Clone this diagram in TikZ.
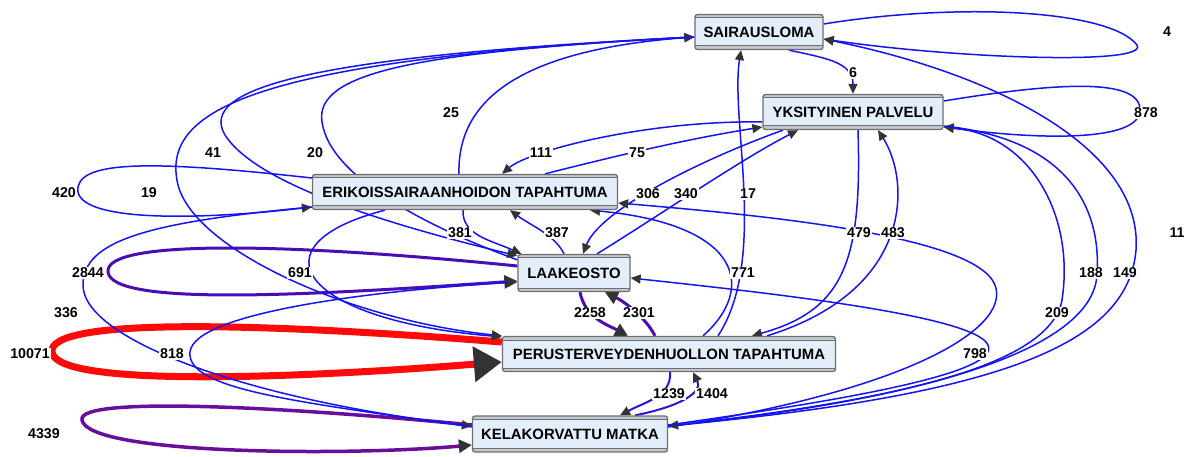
\documentclass[tikz,border=0pt]{standalone}
\usepackage{fontspec}
\setmainfont{Liberation Sans}
\usetikzlibrary{arrows.meta,backgrounds}

\definecolor{actfill}{HTML}{E3EEFA}
\definecolor{actline}{HTML}{6E6E6E}
\definecolor{actband}{HTML}{C4C8CE}
\definecolor{tipgrey}{HTML}{333333}
\definecolor{flowblue}{HTML}{1414F0}
\definecolor{flowindigo}{HTML}{3510D4}
\definecolor{flowviolet}{HTML}{4A0DB4}
\definecolor{flowpurple}{HTML}{6A0C9C}
\definecolor{flowred}{HTML}{FF0A0A}

\begin{document}
\begin{tikzpicture}[x=1pt, y=-1pt,
  act/.style={draw=actline, fill=actfill, line width=1.3pt, rounded corners=2.5pt,
    minimum height=35pt, inner sep=0pt, text=black,
    font=\fontsize{14.9}{17}\selectfont\bfseries,
    path picture={
      \fill[actband] (path picture bounding box.north west) rectangle ([yshift=-3.5pt]path picture bounding box.north east);
      \fill[actband] (path picture bounding box.south west) rectangle ([yshift=3.5pt]path picture bounding box.south east);
      \draw[actline, line width=1pt] ([yshift=-3.5pt]path picture bounding box.north west) -- ([yshift=-3.5pt]path picture bounding box.north east);
      \draw[actline, line width=1pt] ([yshift=3.5pt]path picture bounding box.south west) -- ([yshift=3.5pt]path picture bounding box.south east);}},
  cnt/.style={fill=white, inner sep=0.8pt, text=black, font=\fontsize{14.2}{16}\selectfont\bfseries},
  flow/.style={draw=flowblue, line width=1.5pt, -{Triangle[length=10pt, width=9pt, color=tipgrey]}},
  heavy/.style={line width=3pt, -{Triangle[length=13pt, width=13pt, color=tipgrey]}},
]
\useasboundingbox (0,0) rectangle (1189,457);

\node[act, minimum width=128pt] (sair) at (759,32) {SAIRAUSLOMA};
\node[act, minimum width=180pt] (yks) at (853,112) {YKSITYINEN PALVELU};
\node[act, minimum width=305pt] (erik) at (465,192) {ERIKOISSAIRAANHOIDON TAPAHTUMA};
\node[act, minimum width=112pt, minimum height=37pt] (laak) at (574,273) {LAAKEOSTO};
\node[act, minimum width=333pt] (perus) at (669,354) {PERUSTERVEYDENHUOLLON TAPAHTUMA};
\node[act, minimum width=195pt, minimum height=36pt] (kela) at (570,434) {KELAKORVATTU MATKA};

\begin{scope}[on background layer]
  % self loops
  \draw[flow] ([yshift=8pt]sair.east) .. controls (960,2) and (1110,10) .. (1137,45) .. controls (1150,66) and (950,58) .. ([yshift=-7pt]sair.east);
  \draw[flow] ([yshift=11pt]yks.east) .. controls (1060,82) and (1140,78) .. (1140,110) .. controls (1140,142) and (1040,140) .. ([yshift=-15pt]yks.east);
  \draw[flow] ([yshift=14pt]erik.west) .. controls (150,160) and (74,160) .. (78,192) .. controls (84,222) and (200,220) .. ([yshift=-15pt]erik.west);
  \draw[flow, heavy, draw=flowviolet] ([yshift=7pt]laak.west) .. controls (300,244) and (104,238) .. (108,272) .. controls (112,306) and (300,296) .. ([yshift=-8pt]laak.west);
  \draw[draw=flowred, line width=7pt, -{Triangle[length=28pt, width=34pt, color=tipgrey]}] ([yshift=12pt]perus.west) .. controls (250,322) and (48,318) .. (52,352) .. controls (56,388) and (300,378) .. ([yshift=-8pt]perus.west);
  \draw[flow, heavy, line width=3.5pt, draw=flowpurple] ([yshift=9pt]kela.west) .. controls (300,408) and (76,395) .. (82,420) .. controls (88,455) and (350,456) .. ([yshift=-11pt]kela.west);
  % upper part
  \draw[flow] ([xshift=30pt]sair.south) .. controls (825,58) and (853,62) .. (yks.north);
  \draw[flow] ([xshift=-6pt]erik.north) .. controls (457,100) and (520,50) .. ([yshift=-5pt]sair.west);
  \draw[flow] ([yshift=-6pt]laak.north west) .. controls (430,228) and (330,178) .. (322,122) .. controls (314,72) and (420,52) .. ([yshift=-5pt]sair.west);
  \draw[flow] ([yshift=-5pt]sair.west) .. controls (330,55) and (195,85) .. (225,135) .. controls (260,190) and (420,232) .. ([yshift=-2pt]laak.north west);
  \draw[flow] ([yshift=-5pt]sair.west) .. controls (250,60) and (160,110) .. (178,185) .. controls (195,250) and (350,320) .. (perus.north west);
  \draw[flow] ([xshift=-80pt]erik.south) .. controls (250,245) and (300,320) .. ([yshift=-1pt]perus.north west);
  \draw[flow] ([yshift=-10pt]yks.west) .. controls (650,120) and (530,150) .. ([xshift=37pt]erik.north);
  \draw[flow] ([xshift=80pt]erik.north) .. controls (600,160) and (680,140) .. ([yshift=-15pt]yks.west);
  \draw[flow] ([xshift=-70pt]yks.south) .. controls (700,160) and (600,210) .. ([xshift=9pt]laak.north);
  \draw[flow] ([xshift=23pt]laak.north) .. controls (660,215) and (740,160) .. ([xshift=-55pt]yks.south);
  \draw[flow] ([xshift=-2pt]erik.south) .. controls (462,235) and (490,240) .. ([xshift=4pt]laak.north west);
  \draw[flow] ([xshift=-10pt]laak.north) .. controls (555,235) and (530,225) .. ([xshift=45pt]erik.south);
  % from and to the primary care events
  \draw[flow] ([xshift=49pt]perus.north) .. controls (768,260) and (730,120) .. ([xshift=-18pt]sair.south);
  \draw[flow] ([xshift=34pt]perus.north) .. controls (755,290) and (745,225) .. ([xshift=125pt]erik.south);
  \draw[flow] ([xshift=5pt]yks.south) .. controls (862,260) and (845,310) .. ([xshift=83pt]perus.north);
  \draw[flow] ([xshift=98pt]perus.north) .. controls (915,290) and (910,180) .. ([xshift=25pt]yks.south);
  \draw[flow, heavy, draw=flowviolet] ([xshift=6pt]laak.south) .. controls (585,318) and (608,325) .. ([xshift=-41pt]perus.north);
  \draw[flow, heavy, draw=flowviolet] ([xshift=-14pt]perus.north) .. controls (646,318) and (625,302) .. ([xshift=31pt]laak.south);
  \draw[flow, line width=2pt, draw=flowindigo] ([xshift=1pt]perus.south) .. controls (672,396) and (645,402) .. ([xshift=50pt]kela.north);
  \draw[flow, line width=2pt, draw=flowindigo] ([xshift=65pt]kela.north) .. controls (682,406) and (703,392) .. ([xshift=24pt]perus.south);
  % travel events
  \draw[flow] ([yshift=-15pt]erik.west) .. controls (150,222) and (83,240) .. (83,285) .. controls (83,340) and (250,400) .. ([yshift=8pt]kela.west);
  \draw[flow] ([yshift=7pt]kela.west) .. controls (300,402) and (186,390) .. (190,352) .. controls (194,312) and (380,290) .. ([yshift=-9pt]laak.west);
  \draw[flow] ([yshift=7pt]kela.east) .. controls (900,392) and (1012,330) .. (995,285) .. controls (975,235) and (760,215) .. ([yshift=-11pt]erik.east);
  \draw[flow] ([yshift=9pt]kela.east) .. controls (860,398) and (1000,372) .. (988,345) .. controls (975,315) and (760,292) .. ([yshift=-5pt]laak.east);
  \draw[flow] ([yshift=8pt]kela.east) .. controls (900,400) and (1050,365) .. (1062,300) .. controls (1075,215) and (1030,135) .. ([yshift=-15pt]yks.east);
  \draw[flow] ([yshift=-14pt]yks.east) .. controls (1060,138) and (1102,200) .. (1097,275) .. controls (1092,355) and (900,402) .. ([yshift=8pt]kela.east);
  \draw[flow] ([yshift=8pt]kela.east) .. controls (1000,395) and (1128,345) .. (1136,250) .. controls (1143,150) and (1000,75) .. ([yshift=-7pt]sair.east);
\end{scope}

\node[cnt] (c4) at (1167,32) {4};
\node[cnt] (c6) at (853,73) {6};
\node[cnt] (c878) at (1146,113) {878};
\node[cnt] (c25) at (451,113) {25};
\node[cnt] (c41) at (213,153) {41};
\node[cnt] (c20) at (315,153) {20};
\node[cnt] (c111) at (541,153) {111};
\node[cnt] (c75) at (637,153) {75};
\node[cnt] (c420) at (64,193) {420};
\node[cnt] (c19) at (149,193) {19};
\node[cnt] (c306) at (648,194) {306};
\node[cnt] (c340) at (686,194) {340};
\node[cnt] (c17) at (748,194) {17};
\node[cnt] (c381) at (460,233) {381};
\node[cnt] (c387) at (557,233) {387};
\node[cnt] (c479) at (859,233) {479};
\node[cnt] (c483) at (893,233) {483};
\node[cnt] (c11) at (1177,233) {11};
\node[cnt] (c2844) at (88,273) {2844};
\node[cnt] (c691) at (300,273) {691};
\node[cnt] (c771) at (743,273) {771};
\node[cnt] (c188) at (1091,273) {188};
\node[cnt] (c149) at (1125,273) {149};
\node[cnt] (c336) at (66,313) {336};
\node[cnt] (c2258) at (590,313) {2258};
\node[cnt] (c2301) at (639,313) {2301};
\node[cnt] (c209) at (1057,313) {209};
\node[cnt] (c10071) at (30,354) {10071};
\node[cnt] (c818) at (172,354) {818};
\node[cnt] (c798) at (975,354) {798};
\node[cnt] (c1239) at (669,394) {1239};
\node[cnt] (c1404) at (712,394) {1404};
\node[cnt] (c4339) at (44,434) {4339};
\end{tikzpicture}
\end{document}
